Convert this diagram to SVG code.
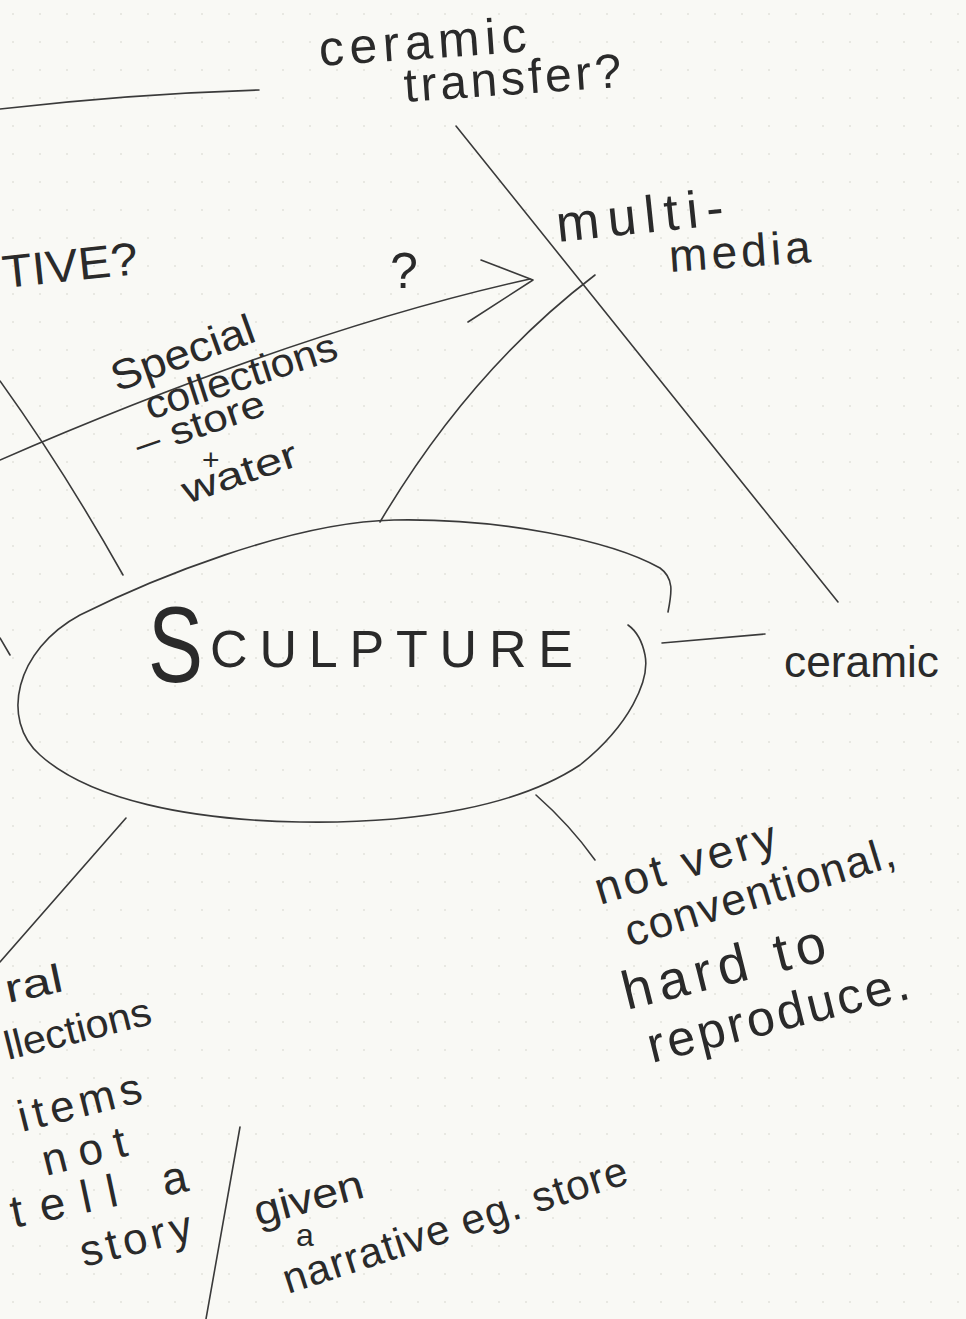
<svg xmlns="http://www.w3.org/2000/svg" width="966" height="1319" viewBox="0 0 966 1319">
<style>
.ink{fill:none;stroke:#3a3a3a;stroke-width:1.6;stroke-linecap:round;stroke-linejoin:round}
.t{font-family:"Liberation Sans","DejaVu Sans",sans-serif;fill:#2a2a2a;font-weight:normal}
</style>
<defs>
<pattern id="dots" x="0" y="0" width="27" height="28" patternUnits="userSpaceOnUse">
<circle cx="13" cy="14" r="1" fill="#e3e3dc"/>
</pattern>
</defs>
<rect width="966" height="1319" fill="#f9f9f5"/>
<rect width="966" height="1319" fill="url(#dots)"/>

<g id="connectors" class="ink">
<path d="M0,109 Q130,94 259,90"/>
<path d="M0,381 Q64,470 123,575"/>
<path d="M0,460 Q300,330 530,279"/>
<path d="M481,260 L533,280 L468,322"/>
<path d="M456,126 L838,602"/>
<path d="M380,522 Q470,370 595,275"/>
<path d="M662,643 L765,634"/>
<path d="M536,795 Q570,825 595,860"/>
<path d="M126,818 L0,962"/>
<path d="M0,638 L10,655"/>
<path d="M240,1127 L206,1319"/>
</g>

<g id="node-sculpture">
<path class="ink" d="M668,612 C672,592 674,578 660,568 C610,540 500,518 394,520 C290,522 150,580 80,615 C15,650 0,720 40,755 C90,800 190,820 300,822 C420,824 520,805 580,765 C630,725 650,680 645,655 C642,640 635,630 628,625"/>
<text class="t" x="148" y="682" font-size="108" textLength="55" lengthAdjust="spacingAndGlyphs">S</text>
<text class="t" x="210" y="667" font-size="52" textLength="363" lengthAdjust="spacing">CULPTURE</text>
</g>

<g id="node-ceramic">
<text class="t" x="784" y="677" font-size="44" textLength="155" lengthAdjust="spacingAndGlyphs">ceramic</text>
</g>

<g id="node-ceramic-transfer">
<text class="t" x="320" y="66" font-size="50" textLength="208" lengthAdjust="spacing" transform="rotate(-4 320 66)">ceramic</text>
<text class="t" x="405" y="102" font-size="48" textLength="218" lengthAdjust="spacing" transform="rotate(-4 405 102)">transfer?</text>
</g>

<g id="node-multimedia">
<text class="t" x="558" y="242" font-size="52" textLength="168" lengthAdjust="spacing" transform="rotate(-6 558 242)">multi-</text>
<text class="t" x="670" y="272" font-size="46" textLength="142" lengthAdjust="spacing" transform="rotate(-4 670 272)">media</text>
</g>

<g id="node-tive">
<text class="t" x="4" y="288" font-size="46" textLength="136" lengthAdjust="spacingAndGlyphs" transform="rotate(-6 4 288)">TIVE?</text>
</g>

<g id="node-question">
<text class="t" x="390" y="288" font-size="50">?</text>
</g>

<g id="node-special">
<text class="t" x="117" y="392" font-size="42" textLength="150" lengthAdjust="spacingAndGlyphs" transform="rotate(-20 117 392)">Special</text>
<text class="t" x="150" y="420" font-size="40" textLength="200" lengthAdjust="spacingAndGlyphs" transform="rotate(-18 150 420)">collections</text>
<text class="t" x="140" y="458" font-size="38" textLength="135" lengthAdjust="spacingAndGlyphs" transform="rotate(-19 140 458)">– store</text>
<text class="t" x="202" y="470" font-size="30">+</text>
<text class="t" x="187" y="504" font-size="38" textLength="120" lengthAdjust="spacingAndGlyphs" transform="rotate(-19 187 504)">water</text>
</g>

<g id="node-not-very">
<text class="t" x="600" y="905" font-size="46" textLength="188" lengthAdjust="spacing" transform="rotate(-17 600 905)">not very</text>
<text class="t" x="630" y="947" font-size="44" textLength="280" lengthAdjust="spacing" transform="rotate(-17 630 947)">conventional,</text>
<text class="t" x="627" y="1010" font-size="54" textLength="208" lengthAdjust="spacing" transform="rotate(-14 627 1010)">hard to</text>
<text class="t" x="652" y="1063" font-size="50" textLength="268" lengthAdjust="spacing" transform="rotate(-14 652 1063)">reproduce.</text>
</g>

<g id="node-items">
<text class="t" x="8" y="1003" font-size="40" textLength="58" lengthAdjust="spacingAndGlyphs" transform="rotate(-12 8 1003)">ral</text>
<text class="t" x="8" y="1060" font-size="40" textLength="150" lengthAdjust="spacingAndGlyphs" transform="rotate(-14 8 1060)">llections</text>
<text class="t" x="22" y="1132" font-size="44" textLength="126" lengthAdjust="spacing" transform="rotate(-14 22 1132)">items</text>
<text class="t" x="46" y="1176" font-size="44" textLength="86" lengthAdjust="spacing" transform="rotate(-14 46 1176)">not</text>
<text class="t" x="14" y="1228" font-size="46" textLength="180" lengthAdjust="spacing" transform="rotate(-12 14 1228)">tell a</text>
<text class="t" x="84" y="1267" font-size="44" textLength="114" lengthAdjust="spacing" transform="rotate(-14 84 1267)">story</text>
</g>

<g id="node-given">
<text class="t" x="258" y="1226" font-size="42" textLength="112" lengthAdjust="spacingAndGlyphs" transform="rotate(-15 258 1226)">given</text>
<text class="t" x="296" y="1246" font-size="32">a</text>
<text class="t" x="288" y="1294" font-size="42" textLength="360" lengthAdjust="spacing" transform="rotate(-18 288 1294)">narrative eg. store</text>
</g>
</svg>
